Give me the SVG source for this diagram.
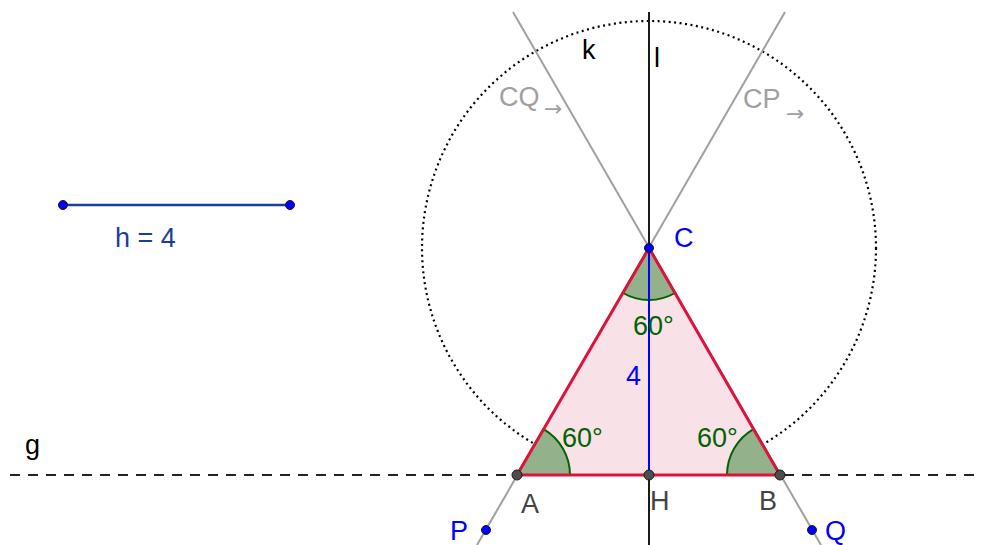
<svg xmlns="http://www.w3.org/2000/svg" width="982" height="545" viewBox="0 0 982 545">
<style>
text{font-family:"Liberation Sans",Arial,sans-serif;font-size:27px}
.arr{font-family:"DejaVu Sans",sans-serif;font-size:22px;fill:#a0a0a0}
.gray{stroke:#a0a0a0;stroke-width:2;fill:none}
.glab{fill:#a0a0a0}
.ang{fill:#93b28b;stroke:#006400;stroke-width:2}
.angt{fill:#006400}
.blue{fill:#0000ff}
.pt{fill:#0000ff;stroke:#1a1a1a;stroke-width:1}
.ptg{fill:#4d4d4d;stroke:#1a1a1a;stroke-width:1}
.dark{fill:#444}
</style>
<rect width="982" height="545" fill="#fff"/>
<g id="connectors">
<circle id="k" cx="649" cy="248" r="227" fill="none" stroke="#000" stroke-width="2.2" stroke-dasharray="2,3.5"/>
<line id="g" x1="10" y1="475" x2="982" y2="475" stroke="#222" stroke-width="2" stroke-dasharray="10,8"/>
<line id="lineCP" class="gray" x1="785" y1="12" x2="477" y2="545"/>
<line id="lineCQ" class="gray" x1="513" y1="12" x2="821" y2="545"/>
<line id="l" x1="649" y1="12" x2="649" y2="545" stroke="#1a1a1a" stroke-width="2"/>
</g>
<g id="triangle">
<polygon points="517,475 780,475 649,248" fill="#f8e2e8"/>
<path class="ang" d="M517,475 L570,475 A53,53 0 0 0 543.5,429.1 Z"/>
<path class="ang" d="M780,475 L727,475 A53,53 0 0 1 753.5,429.1 Z"/>
<path class="ang" d="M649,248 L623,293 A52,52 0 0 0 675,293 Z"/>
<polygon points="517,475 780,475 649,248" fill="none" stroke="#dc143c" stroke-width="3" stroke-linejoin="round"/>
<line x1="649" y1="248" x2="649" y2="475" stroke="#0000ff" stroke-width="2"/>
</g>
<g id="segment-h">
<line x1="63" y1="205" x2="290" y2="205" stroke="#1a3e9a" stroke-width="2.5"/>
<circle class="pt" cx="63" cy="205" r="4.5"/>
<circle class="pt" cx="290" cy="205" r="4.5"/>
<text x="115" y="247" fill="#1a3e9a">h = 4</text>
</g>
<g id="node-C"><circle class="pt" cx="649" cy="248" r="4.5"/><text class="blue" x="674" y="247">C</text></g>
<g id="node-A"><circle class="ptg" cx="517" cy="475" r="5"/><text class="dark" x="521" y="513">A</text></g>
<g id="node-H"><circle class="ptg" cx="649" cy="475" r="5"/><text class="dark" x="650" y="510">H</text></g>
<g id="node-B"><circle class="ptg" cx="780" cy="475" r="5"/><text class="dark" x="759" y="510">B</text></g>
<g id="node-P"><circle class="pt" cx="486" cy="530" r="4.5"/><text class="blue" x="450" y="540">P</text></g>
<g id="node-Q"><circle class="pt" cx="812" cy="530" r="4.5"/><text class="blue" x="825" y="540">Q</text></g>
<g id="labels">
<text x="25" y="454">g</text>
<text x="582" y="59">k</text>
<text x="654" y="67">l</text>
<text class="glab" x="499" y="106">CQ</text>
<text class="arr" x="544" y="116">→</text>
<text class="glab" x="743" y="108">CP</text>
<text class="arr" x="786" y="121">→</text>
<text class="blue" x="626" y="385">4</text>
<text class="angt" x="633" y="335">60°</text>
<text class="angt" x="562" y="447">60°</text>
<text class="angt" x="697" y="447">60°</text>
</g>
</svg>
